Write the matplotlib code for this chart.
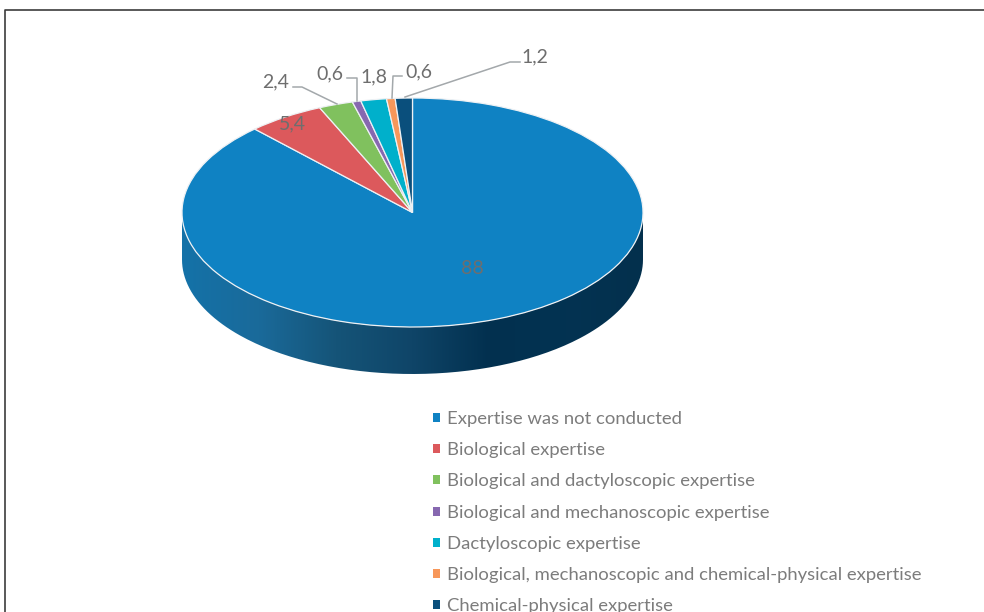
"""Pie chart of the types of expertise, drawn with a fake 3D rim."""

import numpy
from matplotlib import pyplot
from matplotlib.colors import LinearSegmentedColormap
from matplotlib.patches import PathPatch, Rectangle
from matplotlib.path import Path

categories = ['Expertise was not conducted',
              'Biological expertise',
              'Biological and dactyloscopic expertise',
              'Biological and mechanoscopic expertise',
              'Dactyloscopic expertise',
              'Biological, mechanoscopic and chemical-physical expertise',
              'Chemical-physical expertise']
values = [88, 5.4, 2.4, 0.6, 1.8, 0.6, 1.2]
value_labels = ['88', '5,4', '2,4', '0,6', '1,8', '0,6', '1,2']
colors = ['#0f82c3', '#dc595c', '#80c15e', '#8768b0',
          '#00b0cb', '#f7975a', '#0a4f7c']
rim_colors = ['#1472a8', '#1a6a9a', '#155478', '#0f4568',
              '#02304f', '#033352', '#04304d']
text_color = '#6e6e6e'
legend_color = '#7c7c7c'

W, H = 984, 612
# Ellipse of the pie top, in pixels.
cx, cy, rx, ry = 412.5, 212.5, 230.5, 114.5
depth = 47

pyplot.rcParams['font.family'] = ['Lato', 'DejaVu Sans']
fig = pyplot.figure(figsize=(W / 100, H / 100), dpi=100)

# Background axes in pixel units: frame and rim.
ax = fig.add_axes([0, 0, 1, 1])
ax.set_xlim(0, W)
ax.set_ylim(H, 0)
ax.axis('off')

ax.plot([5, 5, W], [H, 9.5, 9.5], color='#3c3c3c', lw=1.2, zorder=1)

# Rim of the pie: a horizontal gradient clipped to the lower half band.
theta = numpy.linspace(0, numpy.pi, 200)
x_arc = cx + rx * numpy.cos(theta)
y_arc = cy + ry * numpy.sin(theta)
rim_x = numpy.concatenate([x_arc, x_arc[::-1]])
rim_y = numpy.concatenate([y_arc + depth, y_arc[::-1]])
rim = PathPatch(Path(numpy.column_stack([rim_x, rim_y])),
                transform=ax.transData, facecolor='none', edgecolor='none')
ax.add_patch(rim)
cmap = LinearSegmentedColormap.from_list('rim', rim_colors)
image = ax.imshow(numpy.linspace(0, 1, 256)[None, :], cmap=cmap, aspect='auto',
                  extent=(cx - rx, cx + rx, cy + ry + depth, cy), zorder=2)
image.set_clip_path(rim)
ax.set_xlim(0, W)
ax.set_ylim(H, 0)

# Pie top, stretched into the ellipse by its own axes.
ax_pie = fig.add_axes([(cx - rx) / W, 1 - (cy + ry) / H, 2 * rx / W, 2 * ry / H])
ax_pie.patch.set_alpha(0)
wedges, _ = ax_pie.pie(values, colors=colors, startangle=90, counterclock=False,
                       wedgeprops=dict(edgecolor='#eef1f4', linewidth=0.9))
ax_pie.set_aspect('auto')
ax_pie.set_xlim(-1, 1)
ax_pie.set_ylim(-1, 1)

# Data labels.
ax_text = fig.add_axes([0, 0, 1, 1])
ax_text.set_xlim(0, W)
ax_text.set_ylim(H, 0)
ax_text.axis('off')
label_pos = [(472, 269), (292, 124), (276, 82), (330, 74), (374, 77),
             (419, 72), (535, 57)]
for label, (x, y) in zip(value_labels, label_pos):
    ax_text.text(x, y, label, color=text_color, fontsize=14,
                 ha='center', va='center')

# Leader lines.
leaders = [([293, 302, 337], [87, 87, 104]),
           ([347, 357, 357], [78, 78, 101]),
           ([402, 393, 392], [76, 76, 98]),
           ([405, 510, 520], [97, 62, 62])]
for xs, ys in leaders:
    ax_text.plot(xs, ys, color='#a3a8ab', lw=1.1)

# Legend; its last row runs off the bottom edge as in the original figure.
handles = [Rectangle((0, 0), 1, 1, facecolor=color) for color in colors]
legend = ax_text.legend(handles, categories, loc='upper left',
                        bbox_to_anchor=(433 / W, 1 - 411 / H),
                        frameon=False, fontsize=13.3, labelcolor=legend_color,
                        handlelength=0.38, handleheight=0.38, handletextpad=0.38,
                        labelspacing=0.825, borderpad=0, borderaxespad=0)

fig.savefig('out.png', dpi=100)
